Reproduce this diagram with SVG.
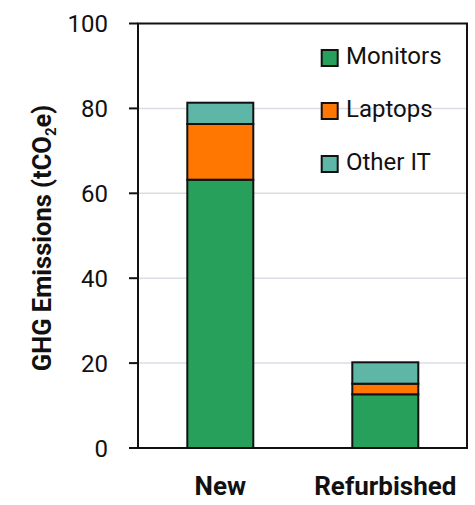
<svg xmlns="http://www.w3.org/2000/svg" width="475" height="505" viewBox="0 0 475 505">
<style>
text{font-family:Roboto,"Liberation Sans",sans-serif;fill:#111}
.tick{font-size:24px;text-anchor:end}
.leg{font-size:24px}
.cat{font-size:26px;font-weight:bold;text-anchor:middle}
.grid{stroke:#dcdce4;stroke-width:1.5}
.ax{stroke:#111;stroke-width:2;fill:none}
.bar{stroke:#111;stroke-width:2}
.mon{fill:#26a05a}
.lap{fill:#ff7700}
.oth{fill:#5db6a6}
</style>
<rect width="475" height="505" fill="#fff"/>
<g id="grid">
<line class="grid" x1="138" y1="108.4" x2="467" y2="108.4"/>
<line class="grid" x1="138" y1="193.3" x2="467" y2="193.3"/>
<line class="grid" x1="138" y1="278.2" x2="467" y2="278.2"/>
<line class="grid" x1="138" y1="363.1" x2="467" y2="363.1"/>
</g>
<g id="bar-new">
<rect class="bar mon" x="187.3" y="179.7" width="66" height="268.3"/>
<rect class="bar lap" x="187.3" y="124" width="66" height="55.7"/>
<rect class="bar oth" x="187.3" y="102.7" width="66" height="21.3"/>
</g>
<g id="bar-refurbished">
<rect class="bar mon" x="352.3" y="394.3" width="66" height="53.7"/>
<rect class="bar lap" x="352.3" y="383.7" width="66" height="10.6"/>
<rect class="bar oth" x="352.3" y="362.3" width="66" height="21.4"/>
</g>
<g id="axes">
<rect class="ax" x="138" y="23.5" width="329" height="424.5"/>
<line class="ax" x1="129" y1="23.5" x2="138" y2="23.5"/>
<line class="ax" x1="129" y1="108.4" x2="138" y2="108.4"/>
<line class="ax" x1="129" y1="193.3" x2="138" y2="193.3"/>
<line class="ax" x1="129" y1="278.2" x2="138" y2="278.2"/>
<line class="ax" x1="129" y1="363.1" x2="138" y2="363.1"/>
<line class="ax" x1="129" y1="448" x2="138" y2="448"/>
<text class="tick" x="108" y="32">100</text>
<text class="tick" x="108" y="116.9">80</text>
<text class="tick" x="108" y="201.8">60</text>
<text class="tick" x="108" y="286.7">40</text>
<text class="tick" x="108" y="371.6">20</text>
<text class="tick" x="108" y="456.5">0</text>
<text class="cat" x="220.3" y="495">New</text>
<text class="cat" x="385.3" y="495">Refurbished</text>
<text transform="translate(51 238) rotate(-90)" font-size="25.5" font-weight="bold" text-anchor="middle">GHG Emissions (tCO<tspan font-size="15" dy="5">2</tspan><tspan dy="-5">e)</tspan></text>
</g>
<g id="legend">
<rect class="bar mon" x="321.7" y="50" width="16" height="16"/>
<text class="leg" x="346" y="64">Monitors</text>
<rect class="bar lap" x="321.7" y="103" width="16" height="16"/>
<text class="leg" x="346" y="117">Laptops</text>
<rect class="bar oth" x="321.7" y="156" width="16" height="16"/>
<text class="leg" x="346" y="170">Other IT</text>
</g>
</svg>
